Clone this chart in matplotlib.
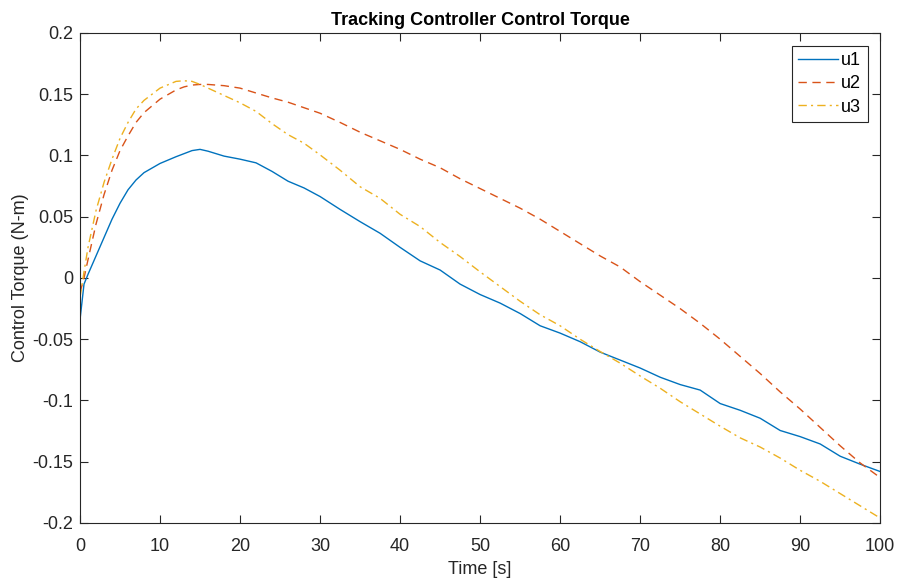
import matplotlib
matplotlib.use('Agg')
import matplotlib.pyplot as plt

# Values
t = [0, 0.5, 1, 2, 3, 4, 5, 6, 7, 8, 10, 12, 13, 14, 15, 16, 18, 20, 22, 24,
     26, 28, 30, 32.5, 35, 37.5, 40, 42.5, 45, 47.5, 50, 52.5, 55, 57.5, 60,
     62.5, 65, 67.5, 70, 72.5, 75, 77.5, 80, 82.5, 85, 87.5, 90, 92.5, 95,
     97.5, 100]

u1 = [-0.034, -0.005, 0.003, 0.018, 0.033, 0.048, 0.061, 0.072, 0.080, 0.086,
      0.0935, 0.099, 0.1015, 0.104, 0.105, 0.1035, 0.0995, 0.097, 0.094, 0.087,
      0.079, 0.0735, 0.0665, 0.056, 0.046, 0.0365, 0.025, 0.014, 0.0065, -0.005,
      -0.0135, -0.0205, -0.029, -0.039, -0.045, -0.052, -0.0605, -0.067, -0.0735,
      -0.081, -0.087, -0.0915, -0.1025, -0.108, -0.1145, -0.1245, -0.1295,
      -0.1355, -0.1455, -0.152, -0.158]

u2 = [-0.012, 0.000, 0.015, 0.044, 0.068, 0.088, 0.104, 0.116, 0.127, 0.135,
      0.146, 0.1535, 0.156, 0.1575, 0.158, 0.158, 0.157, 0.155, 0.151, 0.147,
      0.1435, 0.139, 0.1345, 0.127, 0.119, 0.112, 0.105, 0.097, 0.090, 0.081,
      0.073, 0.065, 0.057, 0.048, 0.038, 0.028, 0.018, 0.009, -0.003, -0.014,
      -0.025, -0.037, -0.050, -0.064, -0.078, -0.093, -0.107, -0.122, -0.137,
      -0.151, -0.163]

u3 = [-0.016, 0.005, 0.025, 0.055, 0.078, 0.097, 0.114, 0.127, 0.138, 0.145,
      0.155, 0.1605, 0.161, 0.1605, 0.158, 0.155, 0.149, 0.143, 0.136, 0.126,
      0.117, 0.110, 0.1005, 0.088, 0.0745, 0.065, 0.052, 0.042, 0.029, 0.0175,
      0.005, -0.007, -0.019, -0.030, -0.039, -0.050, -0.060, -0.0695, -0.080,
      -0.090, -0.101, -0.111, -0.121, -0.1305, -0.138, -0.147, -0.157, -0.166,
      -0.176, -0.186, -0.196]

xticks = list(range(0, 101, 10))
yticks = [-0.2, -0.15, -0.1, -0.05, 0, 0.05, 0.1, 0.15, 0.2]
ytick_labels = ['-0.2', '-0.15', '-0.1', '-0.05', '0', '0.05', '0.1', '0.15', '0.2']

plt.rcParams['font.family'] = ['Liberation Sans', 'DejaVu Sans']
axcol = '#262626'

fig = plt.figure(figsize=(9, 5.85), dpi=100)
ax = fig.add_axes([0.0889, 0.106, 0.8891, 0.8376])

ax.plot(t, u1, color=(0, 0.447, 0.741), linewidth=1.0, label='u1')
ax.plot(t, u2, color=(0.85, 0.325, 0.098), linewidth=1.0, linestyle=(0, (6, 4)), label='u2')
ax.plot(t, u3, color=(0.929, 0.694, 0.125), linewidth=1.0, linestyle=(0, (6, 3, 1.5, 3)), label='u3')

ax.set_xlim(0, 100)
ax.set_ylim(-0.2, 0.2)
ax.set_xticks(xticks)
ax.set_yticks(yticks)
ax.set_yticklabels(ytick_labels)
ax.tick_params(direction='in', length=6, width=0.8, colors=axcol, labelsize=13,
               top=True, right=True)
ax.tick_params(axis='x', pad=11)
ax.tick_params(axis='y', pad=5)
for s in ax.spines.values():
    s.set_color(axcol)
    s.set_linewidth(0.8)

ax.set_title('Tracking Controller Control Torque', fontsize=13, fontweight='bold', color='black', pad=6)
ax.set_xlabel('Time [s]', fontsize=13, color=axcol, labelpad=4)
ax.set_ylabel('Control Torque (N-m)', fontsize=13, color=axcol, labelpad=2)

leg = ax.legend(loc='upper right', fontsize=13, handlelength=2.2, handletextpad=0.2,
                borderpad=0.35, labelspacing=0.35, fancybox=False, framealpha=1,
                borderaxespad=0.7)
leg.get_frame().set_edgecolor(axcol)
leg.get_frame().set_linewidth(0.8)

fig.savefig('out.png', dpi=100)
